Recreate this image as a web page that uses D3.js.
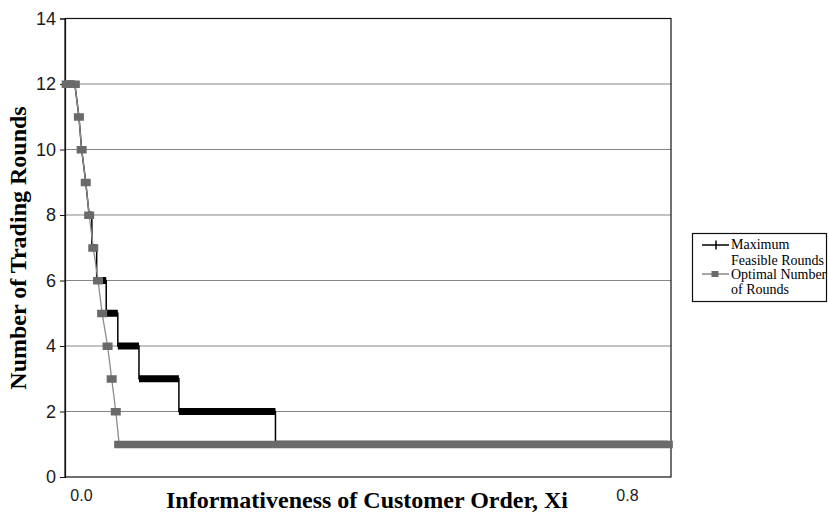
<!DOCTYPE html>
<html>
<head>
<meta charset="utf-8">
<script src="https://cdn.jsdelivr.net/npm/d3@7"></script>
<style>
  html, body { margin: 0; padding: 0; background: #fff; }
  svg { display: block; }
</style>
</head>
<body>
<svg id="chart" width="828" height="514"></svg>
<script>
// ---- data ----
const yTickValues = [0, 2, 4, 6, 8, 10, 12, 14];
const gridValues = [2, 4, 6, 8, 10, 12];
const xTickValues = [0.0, 0.8];
const xTickLabels = ["0.0", "0.8"];

// number of rounds held over a range of Xi (start .. end)
const levels = [12, 11, 10, 9, 8, 7, 6, 5, 4, 3, 2, 1];

const maximumStart = [-0.021, -0.003, 0.001, 0.007, 0.012, 0.016, 0.023, 0.037, 0.054, 0.085, 0.1435, 0.285];
const maximumEnd   = [-0.009, -0.003, 0.001, 0.007, 0.016, 0.023, 0.037, 0.054, 0.085, 0.1435, 0.285, 0.86];

const optimalStart = [-0.021, -0.003, 0.001, 0.007, 0.012, 0.018, 0.025, 0.031, 0.039, 0.045, 0.051, 0.056];
const optimalEnd   = [-0.009, -0.003, 0.001, 0.007, 0.012, 0.018, 0.025, 0.031, 0.039, 0.045, 0.051, 0.86];

const seriesNames = ["Maximum Feasible Rounds", "Optimal Number of Rounds"];

// ---- layout ----
const svg = d3.select("#chart");
const plot = { left: 65, right: 671, top: 18.5, bottom: 477 };

const x = d3.scaleLinear().domain([-0.0234, 0.8646]).range([plot.left, plot.right]);
const y = d3.scaleLinear().domain([0, 14]).range([plot.bottom, plot.top]);

// gridlines
svg.append("g").selectAll("line").data(gridValues).join("line")
  .attr("x1", plot.left).attr("x2", plot.right)
  .attr("y1", d => y(d)).attr("y2", d => y(d))
  .attr("stroke", "#858585").attr("stroke-width", 1);

// frame
svg.append("rect")
  .attr("x", plot.left).attr("y", plot.top)
  .attr("width", plot.right - plot.left).attr("height", plot.bottom - plot.top)
  .attr("fill", "none").attr("stroke", "#111").attr("stroke-width", 1.2);

// y axis
const yAxis = d3.axisLeft(y).tickValues(yTickValues).tickSize(5).tickPadding(4).tickFormat(d3.format("d"));
const gy = svg.append("g").attr("transform", `translate(${plot.left},0)`).call(yAxis);
gy.select(".domain").attr("stroke", "#111").attr("stroke-width", 1.2);
gy.selectAll(".tick line").attr("stroke", "#111");
gy.selectAll(".tick text").attr("font-family", "'Liberation Sans', Arial, sans-serif")
  .attr("font-size", 18).attr("fill", "#1a1a1a");

// x axis labels (no tick marks)
const xAxis = d3.axisBottom(x).tickValues(xTickValues).tickSize(0).tickPadding(13)
  .tickFormat((d, i) => xTickLabels[i]);
const gx = svg.append("g").attr("transform", `translate(0,${plot.bottom})`).call(xAxis);
gx.select(".domain").remove();
gx.selectAll(".tick text").attr("font-family", "'Liberation Sans', Arial, sans-serif")
  .attr("font-size", 16).attr("fill", "#1a1a1a");

// axis titles
svg.append("text")
  .attr("x", 367).attr("y", 508)
  .attr("text-anchor", "middle")
  .attr("font-family", "'Liberation Serif', 'Times New Roman', serif")
  .attr("font-weight", "bold").attr("font-size", 24).attr("fill", "#000")
  .text("Informativeness of Customer Order, Xi");

svg.append("text")
  .attr("transform", "translate(26,248) rotate(-90)")
  .attr("text-anchor", "middle")
  .attr("font-family", "'Liberation Serif', 'Times New Roman', serif")
  .attr("font-weight", "bold").attr("font-size", 24).attr("fill", "#000")
  .text("Number of Trading Rounds");

// ---- series ----
function stepPoints(starts, ends) {
  const pts = [];
  levels.forEach((v, i) => { pts.push([starts[i], v]); pts.push([ends[i], v]); });
  return pts;
}
const line = d3.line().x(d => x(d[0])).y(d => y(d[1]));

// Maximum feasible rounds (black)
const gMax = svg.append("g");
gMax.append("path")
  .attr("d", line(stepPoints(maximumStart, maximumEnd)))
  .attr("fill", "none").attr("stroke", "#000").attr("stroke-width", 1.5);
gMax.selectAll("rect").data(levels.map((v, i) => ({ v, s: maximumStart[i], e: maximumEnd[i] })))
  .join("rect")
  .attr("x", d => x(d.s)).attr("width", d => Math.max(0, x(d.e) - x(d.s)))
  .attr("y", d => y(d.v) - 3.5).attr("height", 7)
  .attr("fill", "#000");

// Optimal number of rounds (gray, square markers)
const gOpt = svg.append("g");
gOpt.append("path")
  .attr("d", line(stepPoints(optimalStart, optimalEnd)))
  .attr("fill", "none").attr("stroke", "#8a8a8a").attr("stroke-width", 1.3);
gOpt.selectAll("rect").data(levels.map((v, i) => ({ v, s: optimalStart[i], e: optimalEnd[i] })))
  .join("rect")
  .attr("x", d => x(d.s) - 5).attr("width", d => x(d.e) - x(d.s) + 10)
  .attr("y", d => y(d.v) - 3.5).attr("height", 7.5)
  .attr("fill", "#6a6a6a");

// ---- legend ----
const lg = svg.append("g");
lg.append("rect").attr("x", 692.5).attr("y", 233.5).attr("width", 134).attr("height", 68)
  .attr("fill", "#fff").attr("stroke", "#111").attr("stroke-width", 1.2);

const legendFont = "'Liberation Serif', 'Times New Roman', serif";
// entry 1
lg.append("line").attr("x1", 702).attr("x2", 729).attr("y1", 245).attr("y2", 245)
  .attr("stroke", "#000").attr("stroke-width", 1.5);
lg.append("line").attr("x1", 716).attr("x2", 716).attr("y1", 240.5).attr("y2", 249.5)
  .attr("stroke", "#000").attr("stroke-width", 1.5);
lg.append("text").attr("x", 731).attr("y", 249).attr("font-family", legendFont)
  .attr("font-size", 14).attr("fill", "#000").text("Maximum");
lg.append("text").attr("x", 731).attr("y", 265).attr("font-family", legendFont)
  .attr("font-size", 14).attr("fill", "#000").text("Feasible Rounds");
// entry 2
lg.append("line").attr("x1", 702).attr("x2", 729).attr("y1", 274).attr("y2", 274)
  .attr("stroke", "#8a8a8a").attr("stroke-width", 1.5);
lg.append("rect").attr("x", 711.5).attr("y", 271).attr("width", 7).attr("height", 6)
  .attr("fill", "#6a6a6a");
lg.append("text").attr("x", 731).attr("y", 278.5).attr("font-family", legendFont)
  .attr("font-size", 14).attr("fill", "#000").text("Optimal Number");
lg.append("text").attr("x", 731).attr("y", 294).attr("font-family", legendFont)
  .attr("font-size", 14).attr("fill", "#000").text("of Rounds");
</script>
</body>
</html>
